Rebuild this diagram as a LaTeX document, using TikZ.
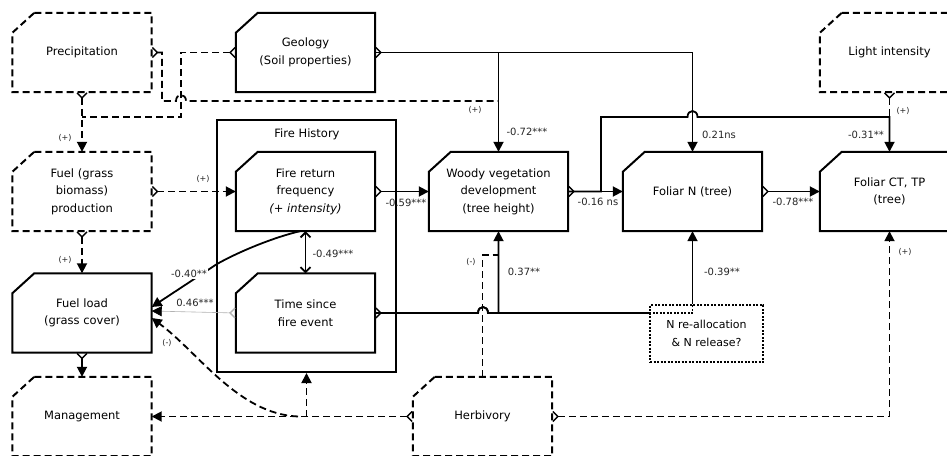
\documentclass[tikz,border=0pt]{standalone}
\usepackage{fontspec}
\setmainfont{DejaVu Sans}
\usetikzlibrary{arrows.meta}
\tikzset{
  boxtext/.style={draw=none, minimum width=139pt, minimum height=79pt, inner sep=0pt, align=center, font=\fontsize{11.5}{17.5}\selectfont},
  boxline/.style={line width=2pt, line join=miter},
  dbox/.style={dash pattern=on 7pt off 4pt},
  conn/.style={line width=1.8pt},
  dconn/.style={line width=1.8pt, dash pattern=on 7pt off 4pt},
  tri/.tip={Triangle[length=10pt,width=10pt]},
  cf/.tip={Straight Barb[reversed,length=5pt,width=10pt,line width=1.4pt]},
  sb/.tip={Straight Barb[length=5pt,width=10pt]},
  lbl/.style={font=\fontsize{10}{11}\selectfont, inner sep=1pt, text=black!85},
  plbl/.style={font=\fontsize{8}{9}\selectfont, inner sep=1pt, text=black!85},
}
\newcommand\cutbox[4][]{%
  \node[boxtext] (#2) at #3 {#4};
  \draw[boxline,#1] ([xshift=22pt]#2.north west) -- (#2.north east) -- (#2.south east) -- (#2.south west) -- ([yshift=-20pt]#2.north west) -- cycle;}
\begin{document}
\begin{tikzpicture}[x=1pt,y=-1pt]
\clip (0,0) rectangle (947,455);
\fill[white] (0,0) rectangle (947,455);
% container
\node[draw, line width=2pt, minimum width=179pt, minimum height=252pt, inner sep=0pt] (fh) at (306.5,246) {};
\node[font=\fontsize{11.5}{13}\selectfont] (fhl) at (307,134) {Fire History};
% boxes
\cutbox[dbox]{prec}{(82,52.5)}{Precipitation}
\cutbox{geo}{(305.5,52.5)}{Geology\\(Soil properties)}
\cutbox[dbox]{light}{(889.5,52.5)}{Light intensity}
\cutbox[dbox]{fuelp}{(82,191.5)}{Fuel (grass\\biomass)\\production}
\cutbox{fr}{(305.5,191.5)}{Fire return\\frequency\\\textit{(+ intensity)}}
\cutbox{woody}{(498.5,191.5)}{Woody vegetation\\development\\(tree height)}
\cutbox{fn}{(692.5,191.5)}{Foliar N (tree)}
\cutbox{fct}{(889.5,191.5)}{Foliar CT, TP\\(tree)}
\cutbox{fl}{(82,313)}{Fuel load\\(grass cover)}
\cutbox{ts}{(305.5,313)}{Time since\\fire event}
\cutbox[dbox]{mgmt}{(82,416.5)}{Management}
\cutbox[dbox]{herb}{(482.5,416.5)}{Herbivory}
\node[draw, dash pattern=on 2pt off 1.5pt, line width=1.5pt, minimum width=113pt, minimum height=57pt, inner sep=0pt, align=center, font=\fontsize{11}{18}\selectfont] (nrel) at (706.5,333.5) {N re-allocation\\\& N release?};
% junctions
\coordinate (j1) at (82,117);
\coordinate (j2) at (498.5,101);
\coordinate (j3) at (889.5,117);
\coordinate (j4) at (498.5,255);
\coordinate (j5) at (306.5,416.5);
\coordinate (j6) at (298,416.5);
% connectors
\draw[dconn, cf-tri] (prec.south) -- (fuelp.north);
\draw[dconn, cf-] (geo.west) -- (181,52.5) -- (181,117) -- (j1);
\draw[dconn, cf-] (prec.east) -- (162,52.5) -- (162,101) -- (176,101) .. controls (176,93) and (186,93) .. (186,101) -- (j2);
\draw[conn, cf-tri] (geo.east) -| (woody.north);
\draw[conn, -tri] (geo.east) -| (fn.north);
\draw[dconn, cf-] (light.south) -- (j3);
\draw[conn, cf-tri] (woody.east) -- (fn.west);
\draw[conn, -tri] (woody.east) -- (601,191.5) -- (601,117) -- (687.5,117) .. controls (687.5,109) and (697.5,109) .. (697.5,117) -- (j3) -- (fct.north);
\draw[conn, cf-tri] (fn.east) -- (fct.west);
\draw[conn, cf-tri] (fr.east) -- (woody.west);
\draw[dconn, cf-tri] (fuelp.east) -- (fr.west);
\draw[dconn, cf-tri] (fuelp.south) -- (fl.north);
\draw[conn, sb-sb] (fr.south) -- (ts.north);
\draw[line width=0.6pt, black!30, cf-{Triangle[length=10pt,width=10pt,black]}] (ts.west) -- ([yshift=2pt]fl.east);
\draw[conn, -tri] ([xshift=-5.5pt]fr.south) .. controls (275,237) and (240,251) .. (217,264) -- ([yshift=6pt]fl.east);
\draw[conn, cf-tri] (ts.east) -- (478,313) .. controls (478,305) and (488,305) .. (488,313) -| (woody.south);
\draw[conn] (ts.east) -- (478,313) .. controls (478,305) and (488,305) .. (488,313) -- (nrel.west |- ts.east);
\draw[line width=1.5pt, dash pattern=on 2pt off 1.5pt] (nrel.west |- ts.east) -| (fn.south |- nrel.north);
\draw[conn, -tri] (fn.south |- nrel.north) -- (fn.south);
\draw[dconn] (herb.north) -- (482.5,255) -- (j4);
\draw[dconn, cf-tri] (herb.west) -- (mgmt.east);
\draw[dconn, -tri] (j5) -- (fh.south);
\draw[dconn, -tri] (j6) .. controls (238,414) and (198,352) .. ([yshift=-5pt]fl.east);
\draw[dconn, cf-tri] (herb.east) -| (fct.south);
\draw[conn, cf-tri] (fl.south) -- (mgmt.north);
% labels
\node[lbl] (l072) at (527,132) {-0.72***};
\node[lbl] (l021) at (719,135) {0.21ns};
\node[lbl] (l031) at (866,135) {-0.31**};
\node[lbl] (l016) at (598,202) {-0.16 ns};
\node[lbl] (l078) at (793,202) {-0.78***};
\node[lbl] (l059) at (406,203) {-0.59***};
\node[lbl] (l049) at (333,254) {-0.49***};
\node[lbl] (l037) at (524,272) {0.37**};
\node[lbl] (l039) at (722,272) {-0.39**};
\node[lbl,fill=white] (l040) at (189,274) {-0.40**};
\node[lbl,fill=white] (l046) at (195,303) {0.46***};
\node[plbl] (p1) at (65,138) {(+)};
\node[plbl] (p2) at (475,110) {(+)};
\node[plbl] (p3) at (903,111) {(+)};
\node[plbl] (p4) at (203,179) {(+)};
\node[plbl] (p5) at (65,260) {(+)};
\node[plbl] (p6) at (471,262) {(-)};
\node[plbl] (p7) at (167,343) {(-)};
\node[plbl] (p8) at (905,252) {(+)};
\end{tikzpicture}
\end{document}
